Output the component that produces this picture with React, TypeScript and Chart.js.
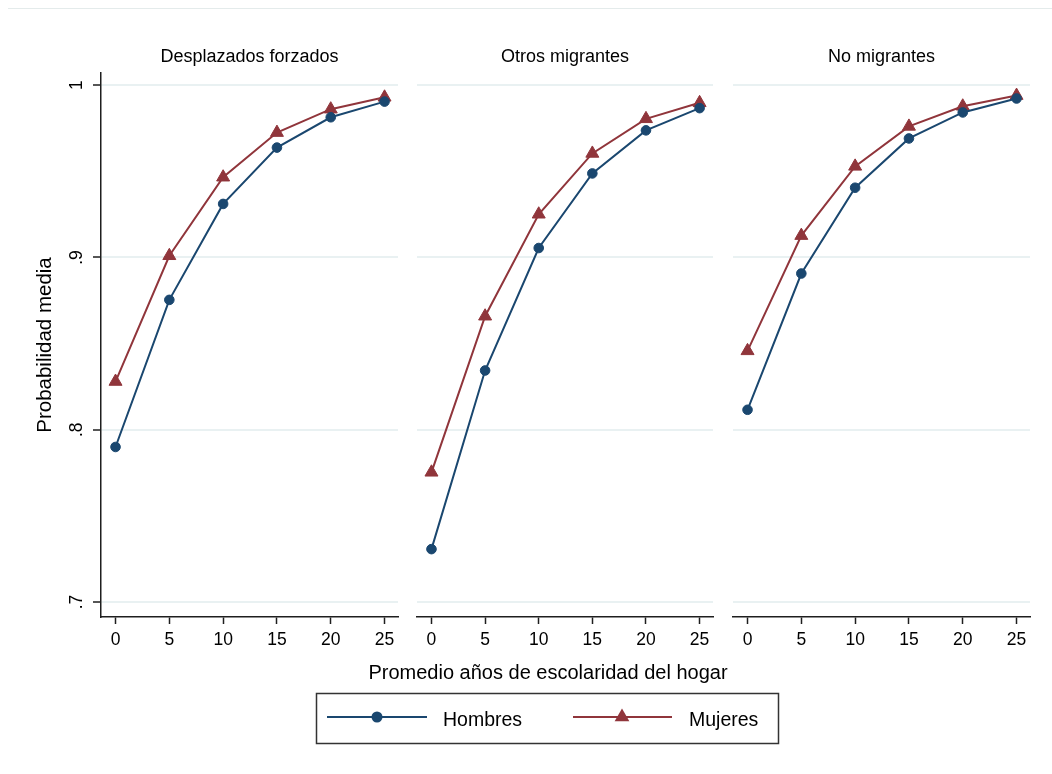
import React, { useEffect, useRef } from "react";
import { Chart, registerables } from "chart.js";

Chart.register(...registerables);

// ---------- data ----------
const xValues = [0, 5, 10, 15, 20, 25];
const xTicks = [0, 5, 10, 15, 20, 25];
const yTicks = [0.7, 0.8, 0.9, 1];
const yTickLabels = [".7", ".8", ".9", "1"];
const panelTitles = ["Desplazados forzados", "Otros migrantes", "No migrantes"];
const seriesNames = ["Hombres", "Mujeres"];
const xTitle = "Promedio años de escolaridad del hogar";
const yTitle = "Probabilidad media";

const hombresDesplazados = [0.79, 0.8754, 0.9311, 0.9638, 0.9814, 0.9905];
const mujeresDesplazados = [0.828, 0.901, 0.9466, 0.9725, 0.9861, 0.993];
const hombresOtros = [0.7307, 0.8344, 0.9055, 0.9488, 0.9738, 0.9867];
const mujeresOtros = [0.7753, 0.8659, 0.9251, 0.9604, 0.9805, 0.9898];
const hombresNo = [0.8116, 0.8907, 0.9405, 0.9691, 0.9842, 0.9923];
const mujeresNo = [0.8458, 0.9127, 0.9529, 0.9761, 0.9878, 0.994];

const hombresPanels = [hombresDesplazados, hombresOtros, hombresNo];
const mujeresPanels = [mujeresDesplazados, mujeresOtros, mujeresNo];

// ---------- style ----------
const FONT = '"Liberation Sans", Arial, Helvetica, sans-serif';
const NAVY = "#1a476f";
const MAROON = "#90353b";
const GRID = "#e9f1f2";
const AXIS = "#1e1e1e";
const W = 1052;
const H = 774;
const plotLeft = [101, 417, 733];
const plotRight = [398, 713, 1030];

function drawTriangle(ctx: CanvasRenderingContext2D, x: number, y: number, r: number) {
  ctx.beginPath();
  let a = 0;
  ctx.moveTo(x + Math.sin(a) * r, y - Math.cos(a) * r);
  a += (2 * Math.PI) / 3;
  ctx.lineTo(x + Math.sin(a) * r, y - Math.cos(a) * r);
  a += (2 * Math.PI) / 3;
  ctx.lineTo(x + Math.sin(a) * r, y - Math.cos(a) * r);
  ctx.closePath();
  ctx.fill();
}

const bottomPlugin = {
  id: "bottomLegend",
  afterDraw(chart: any) {
    const ctx: CanvasRenderingContext2D = chart.ctx;
    ctx.save();
    ctx.fillStyle = "#000";
    ctx.font = `20px ${FONT}`;
    ctx.textAlign = "center";
    ctx.textBaseline = "alphabetic";
    ctx.fillText(xTitle, 548, 679);

    ctx.strokeStyle = "#333";
    ctx.lineWidth = 1.5;
    ctx.strokeRect(316.5, 693.5, 462, 50);

    const items = [
      { x0: 327, x1: 427, mx: 377, tx: 443 },
      { x0: 573, x1: 672, mx: 622, tx: 689 },
    ];
    const y = 717;
    chart.data.datasets.forEach((ds: any, i: number) => {
      const it = items[i];
      ctx.strokeStyle = ds.borderColor;
      ctx.lineWidth = 2;
      ctx.beginPath();
      ctx.moveTo(it.x0, y);
      ctx.lineTo(it.x1, y);
      ctx.stroke();
      ctx.fillStyle = ds.borderColor;
      if (ds.pointStyle === "triangle") {
        drawTriangle(ctx, it.mx, y, 8.5);
      } else {
        ctx.beginPath();
        ctx.arc(it.mx, y, 5.5, 0, Math.PI * 2);
        ctx.fill();
      }
      ctx.fillStyle = "#000";
      ctx.font = `19.5px ${FONT}`;
      ctx.textAlign = "left";
      ctx.textBaseline = "alphabetic";
      ctx.fillText(ds.label, it.tx, 726);
    });
    ctx.restore();
  },
};

function makeConfig(i: number): any {
  const isFirst = i === 0;
  const isMid = i === 1;
  return {
    type: "line",
    data: {
      datasets: [
        {
          label: seriesNames[0],
          data: xValues.map((x, k) => ({ x, y: hombresPanels[i][k] })),
          borderColor: NAVY,
          backgroundColor: NAVY,
          pointBackgroundColor: NAVY,
          pointBorderColor: NAVY,
          pointStyle: "circle",
          pointRadius: 4.8,
          pointBorderWidth: 1,
          borderWidth: 2,
          tension: 0,
        },
        {
          label: seriesNames[1],
          data: xValues.map((x, k) => ({ x, y: mujeresPanels[i][k] })),
          borderColor: MAROON,
          backgroundColor: MAROON,
          pointBackgroundColor: MAROON,
          pointBorderColor: MAROON,
          pointStyle: "triangle",
          pointRadius: 7.5,
          pointBorderWidth: 1,
          borderWidth: 2,
          tension: 0,
        },
      ],
    },
    options: {
      responsive: false,
      animation: false,
      events: [],
      layout: {
        padding: {
          left: isFirst ? 0 : plotLeft[i],
          right: W - plotRight[i],
          top: 47,
          bottom: 107,
        },
      },
      plugins: {
        legend: { display: false },
        tooltip: { enabled: false },
        title: {
          display: true,
          text: panelTitles[i],
          fullSize: false,
          color: "#000",
          font: { family: FONT, size: 18, weight: "normal", lineHeight: "20px" },
          padding: { top: 0, bottom: 6 },
        },
      },
      scales: {
        x: {
          type: "linear",
          min: -1.35,
          max: 26.25,
          afterBuildTicks: (s: any) => {
            s.ticks = xTicks.map((v) => ({ value: v }));
          },
          afterFit: (s: any) => {
            s.height = 50;
          },
          border: { display: true, color: AXIS, width: 1.5 },
          grid: {
            drawOnChartArea: false,
            drawTicks: true,
            tickLength: 7,
            tickColor: AXIS,
            tickWidth: 1.5,
          },
          ticks: {
            color: "#000",
            font: { family: FONT, size: 17.5 },
            padding: 6,
            maxRotation: 0,
            minRotation: 0,
            autoSkip: false,
            callback: (v: any) => String(v),
          },
        },
        y: {
          type: "linear",
          min: 0.6913,
          max: 1.0071,
          afterBuildTicks: (s: any) => {
            s.ticks = yTicks.map((v) => ({ value: v }));
          },
          afterFit: (s: any) => {
            s.width = isFirst ? plotLeft[0] : 0;
          },
          border: { display: isFirst, color: AXIS, width: 1.5 },
          grid: {
            color: GRID,
            lineWidth: 2,
            drawTicks: isFirst,
            tickLength: 8,
            tickColor: AXIS,
            tickWidth: 1.5,
          },
          ticks: {
            display: isFirst,
            color: "#000",
            font: { family: FONT, size: 17.5 },
            padding: 9,
            minRotation: 90,
            maxRotation: 90,
            crossAlign: "center",
            autoSkip: false,
            callback: (v: any) => {
              const idx = yTicks.findIndex((t) => Math.abs(t - v) < 1e-9);
              return idx >= 0 ? yTickLabels[idx] : "";
            },
          },
          title: {
            display: isFirst,
            text: yTitle,
            color: "#000",
            font: { family: FONT, size: 20.5 },
            padding: { top: 33, bottom: 0 },
          },
        },
      },
    },
    plugins: isMid ? [bottomPlugin] : [],
  };
}

export default function App() {
  const r0 = useRef<HTMLCanvasElement>(null);
  const r1 = useRef<HTMLCanvasElement>(null);
  const r2 = useRef<HTMLCanvasElement>(null);
  const refs = [r0, r1, r2];

  useEffect(() => {
    const charts = refs.map((r, i) => new Chart(r.current as HTMLCanvasElement, makeConfig(i)));
    return () => charts.forEach((c) => c.destroy());
  }, []);

  return (
    <div
      style={{
        position: "absolute",
        left: 0,
        top: 0,
        width: W,
        height: H,
        background: "#fff",
        overflow: "hidden",
      }}
    >
      <div
        style={{
          position: "absolute",
          left: 8,
          right: 0,
          top: 8,
          height: 1,
          background: "#e4ebeb",
        }}
      />
      {refs.map((r, i) => (
        <canvas
          key={i}
          ref={r}
          width={W}
          height={H}
          style={{ position: "absolute", left: 0, top: 0 }}
        />
      ))}
    </div>
  );
}
